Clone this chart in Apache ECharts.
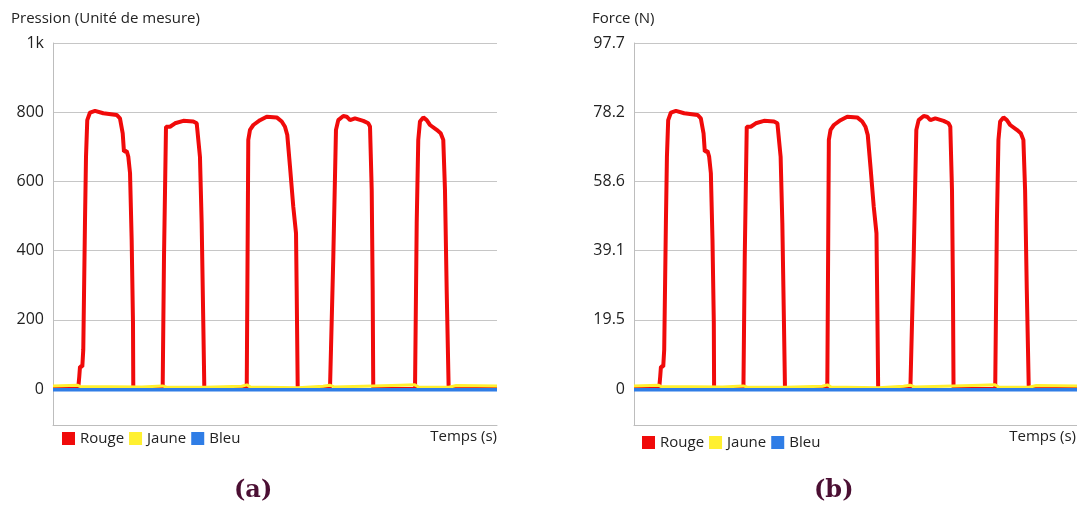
<!DOCTYPE html>
<html>
<head>
<meta charset="utf-8">
<title>Pression / Force</title>
<script src="https://cdn.jsdelivr.net/npm/echarts@6/dist/echarts.min.js"></script>
<style>
  html, body { margin: 0; padding: 0; background: #fff; }
  #chart { width: 1077px; height: 505px; }
</style>
</head>
<body>
<div id="chart"></div>
<script>
  // [temps (s), pression]
  const rouge = [
    [0, 0], [3.4, 0], [3.55, 36], [3.65, 65], [3.96, 65], [4.09, 113], [4.32, 480], [4.46, 671],
    [4.63, 777], [5.0, 799], [5.68, 804], [6.8, 797], [8.61, 792], [9.05, 782], [9.42, 739],
    [9.59, 686], [9.96, 688], [10.18, 671], [10.41, 624], [10.63, 431], [10.81, 191], [10.85, 0],
    [14.82, 0], [15.0, 382], [15.27, 758], [15.36, 763], [15.81, 758], [16.49, 768], [17.61, 775],
    [18.96, 773], [19.42, 768], [19.86, 671], [20.09, 480], [20.31, 191], [20.45, 0],
    [26.18, 0], [26.39, 720], [26.62, 749], [27.07, 763], [27.97, 777], [28.88, 787], [30.23, 785],
    [30.91, 773], [31.35, 758], [31.66, 734], [32.03, 642], [32.47, 527], [32.84, 450], [32.93, 286], [33.07, 0],
    [37.43, 0], [37.88, 382], [38.24, 749], [38.55, 777], [39.23, 789], [39.69, 787], [40.14, 777],
    [40.81, 782], [41.93, 775], [42.61, 768], [42.84, 758], [43.07, 575], [43.2, 286], [43.28, 0],
    [48.92, 0], [49.15, 480], [49.36, 720], [49.59, 773], [50.04, 785], [50.5, 777], [50.95, 763],
    [51.85, 749], [52.39, 739], [52.74, 720], [52.97, 575], [53.2, 286], [53.47, 0], [60, 0]
  ];
  const jaune = [
    [0, 9], [3.3, 11], [3.7, 7], [12, 6], [14.8, 9], [15.3, 6], [20.5, 5], [25.5, 8], [26.2, 12],
    [26.7, 6], [33.1, 4], [36.5, 8], [37.4, 11], [38, 6], [43.3, 9], [47, 11], [48.9, 12],
    [49.4, 6], [53.5, 5], [54.5, 10], [60, 9]
  ];
  const bleu = [[0, -2], [15, -2], [30, -2], [45, -2], [60, -2]];

  const graduations = [0, 200, 400, 600, 800, 1000];
  const etiquettesPression = ['0', '200', '400', '600', '800', '1k'];
  const etiquettesForce = ['0', '19.5', '39.1', '58.6', '78.2', '97.7'];
  const noms = ['Rouge', 'Jaune', 'Bleu'];
  const couleurs = ['#f00a0a', '#fff030', '#2f7de6'];

  const police = '"Open Sans", "Noto Sans", sans-serif';

  function axeY(idx, etiquettes) {
    return {
      type: 'value', gridIndex: idx, min: -104, max: 1000,
      axisLine: { show: true, lineStyle: { color: '#bdbdbd', width: 1 } },
      axisTick: { show: false, customValues: graduations },
      axisLabel: {
        customValues: graduations,
        formatter: function (v) { return etiquettes[graduations.indexOf(v)]; },
        color: '#222', fontSize: 16, margin: 9, fontFamily: police
      },
      splitLine: { show: true, lineStyle: { color: '#c6c6c6', width: 1 } }
    };
  }

  function axeX(idx) {
    return {
      type: 'value', gridIndex: idx, min: 0, max: 60,
      axisLine: { show: true, onZero: false, lineStyle: { color: '#bdbdbd', width: 1 } },
      axisTick: { show: false }, axisLabel: { show: false }, splitLine: { show: false }
    };
  }

  function courbes(idx) {
    const donnees = [rouge, jaune, bleu];
    const epaisseurs = [4, 3, 3.5];
    return donnees.map(function (d, i) {
      return {
        name: noms[i], type: 'line', xAxisIndex: idx, yAxisIndex: idx,
        data: d, showSymbol: false, symbol: 'none', animation: false,
        lineStyle: { color: couleurs[i], width: epaisseurs[i] },
        itemStyle: { color: couleurs[i] }
      };
    });
  }

  function legende(left, top) {
    return {
      left: left, top: top, padding: 0, itemWidth: 13, itemHeight: 13, itemGap: 5, icon: 'rect',
      data: noms, textStyle: { fontSize: 15, color: '#222', fontFamily: police }
    };
  }

  const myChart = echarts.init(document.getElementById('chart'));
  myChart.setOption({
    backgroundColor: '#fff',
    animation: false,
    grid: [
      { left: 53, top: 43, width: 444, height: 382 },
      { left: 634, top: 43, width: 443, height: 382 }
    ],
    xAxis: [axeX(0), axeX(1)],
    yAxis: [axeY(0, etiquettesPression), axeY(1, etiquettesForce)],
    legend: [legende(62, 431), legende(642, 435)],
    series: courbes(0).concat(courbes(1)),
    graphic: [
      { type: 'text', left: 11, top: 11, style: { text: 'Pression (Unité de mesure)', fontSize: 15, fill: '#222', fontFamily: police } },
      { type: 'text', left: 592, top: 11, style: { text: 'Force (N)', fontSize: 15, fill: '#222', fontFamily: police } },
      { type: 'text', right: 580, top: 429, style: { text: 'Temps (s)', fontSize: 15, fill: '#222', fontFamily: police } },
      { type: 'text', right: 1, top: 429, style: { text: 'Temps (s)', fontSize: 15, fill: '#222', fontFamily: police } },
      { type: 'text', left: 234, top: 479, style: { text: '(a)', fontSize: 24, fontWeight: 'bold', fill: '#4b0f33', fontFamily: '"DejaVu Serif", serif' } },
      { type: 'text', left: 814, top: 479, style: { text: '(b)', fontSize: 24, fontWeight: 'bold', fill: '#4b0f33', fontFamily: '"DejaVu Serif", serif' } }
    ]
  });
</script>
</body>
</html>
